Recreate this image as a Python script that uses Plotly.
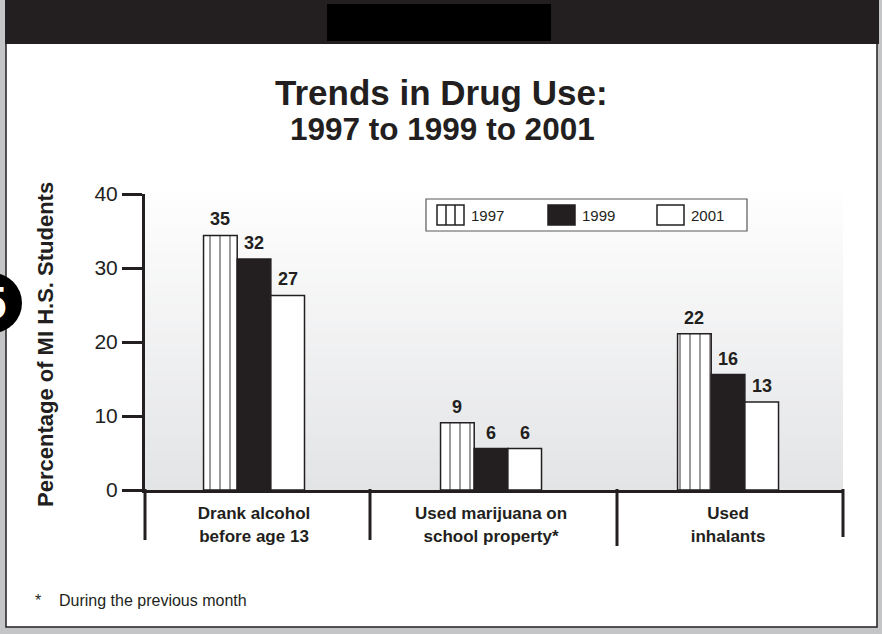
import plotly.graph_objects as go

# ---- data ----
categories = ["Drank alcohol<br>before age 13", "Used marijuana on<br>school property*", "Used<br>inhalants"]
years = ["1997", "1999", "2001"]
values_1997 = [34.4, 9.1, 21.1]
values_1999 = [31.2, 5.6, 15.6]
values_2001 = [26.3, 5.6, 11.9]
labels_1997 = ["35", "9", "22"]
labels_1999 = ["32", "6", "16"]
labels_2001 = ["27", "6", "13"]
y_ticks = [0, 10, 20, 30, 40]

DARK = "#231f20"
BOLD = "Liberation Sans, Arial, Helvetica, sans-serif"
NARROW = "Liberation Sans Narrow, Arial Narrow, Liberation Sans, Arial, sans-serif"

W, H = 882, 634
L, R, T, B = 145, 39, 194, 144  # plot area 145..843 x 194..490
PW, PH = W - L - R, H - T - B


def px(x):
    return (x - L) / PW


def py(y):
    return (H - B - y) / PH


series = [
    ("1997", values_1997, labels_1997, dict(color="white", line=dict(color=DARK, width=1.5),
                                            pattern=dict(shape="|", fgcolor=DARK, bgcolor="white", size=10, solidity=0.18))),
    ("1999", values_1999, labels_1999, dict(color=DARK, line=dict(color=DARK, width=1.5))),
    ("2001", values_2001, labels_2001, dict(color="white", line=dict(color=DARK, width=1.5))),
]

bar_w = 0.142
offsets = [-1.5 * bar_w, -0.5 * bar_w, 0.5 * bar_w]
xs = list(range(len(categories)))

fig = go.Figure()
annotations = []
for (name, vals, labs, marker), off in zip(series, offsets):
    fig.add_trace(go.Bar(x=xs, y=vals, name=name, width=bar_w, offset=off,
                         marker=marker, showlegend=False, hoverinfo="skip"))
    for xi, v, lab in zip(xs, vals, labs):
        annotations.append(dict(x=xi + off + bar_w / 2, y=v, xref="x", yref="y", text="<b>%s</b>" % lab,
                                showarrow=False, xanchor="center", yanchor="bottom", yshift=4,
                                font=dict(family=BOLD, size=18, color=DARK)))

shapes = []
# white panel with border
shapes.append(dict(type="rect", xref="paper", yref="paper", x0=px(6), x1=px(877), y0=py(43), y1=py(627),
                   fillcolor="white", line=dict(color=DARK, width=1.5), layer="below"))
# top dark band
shapes.append(dict(type="rect", xref="paper", yref="paper", x0=px(5), x1=px(879), y0=py(0), y1=py(44),
                   fillcolor=DARK, line=dict(width=0), layer="below"))
shapes.append(dict(type="rect", xref="paper", yref="paper", x0=px(327), x1=px(551), y0=py(4), y1=py(41),
                   fillcolor="black", line=dict(width=0), layer="below"))
# plot-area gradient
n = 40
c0, c1 = (254, 254, 254), (227, 228, 230)
for i in range(n):
    t = (i + 0.5) / n
    c = tuple(int(round(a + (b - a) * t)) for a, b in zip(c0, c1))
    shapes.append(dict(type="rect", xref="paper", yref="paper", x0=0, x1=1,
                       y0=1 - (i + 1) / n, y1=1 - i / n + 0.002,
                       fillcolor="rgb(%d,%d,%d)" % c, line=dict(width=0), layer="below"))
# category dividers below axis
for xpix, ybot in [(145, 540), (370, 540), (617, 546), (843, 537)]:
    shapes.append(dict(type="line", xref="paper", yref="paper", x0=px(xpix), x1=px(xpix),
                       y0=py(489), y1=py(ybot), line=dict(color=DARK, width=3)))
# legend box
shapes.append(dict(type="rect", xref="paper", yref="paper", x0=px(426), x1=px(747), y0=py(199), y1=py(231),
                   fillcolor="white", line=dict(color="#58595b", width=1.2)))
swatches = [(437, 464, "white"), (548, 575, DARK), (657, 684, "white")]
for x0, x1, fc in swatches:
    shapes.append(dict(type="rect", xref="paper", yref="paper", x0=px(x0), x1=px(x1), y0=py(205), y1=py(225),
                       fillcolor=fc, line=dict(color=DARK, width=1.5)))
for xl in (446, 455):
    shapes.append(dict(type="line", xref="paper", yref="paper", x0=px(xl), x1=px(xl), y0=py(205), y1=py(225),
                       line=dict(color=DARK, width=1.5)))
for (x0, x1, fc), yr in zip(swatches, years):
    annotations.append(dict(x=px(x1 + 5), y=py(215), xref="paper", yref="paper", text=yr, showarrow=False,
                            xanchor="left", yanchor="middle", font=dict(family=NARROW, size=15, color=DARK)))
# side badge
shapes.append(dict(type="circle", xref="paper", yref="paper", x0=px(-38), x1=px(22), y0=py(273), y1=py(333),
                   fillcolor="black", line=dict(width=0)))
annotations.append(dict(x=px(-6), y=py(303), xref="paper", yref="paper", text="<b>5</b>", showarrow=False,
                        xanchor="center", yanchor="middle", font=dict(family=BOLD, size=46, color="white")))

# titles
annotations.append(dict(x=px(441), y=py(92), xref="paper", yref="paper", text="<b>Trends in Drug Use:</b>",
                        showarrow=False, xanchor="center", yanchor="middle", font=dict(family=BOLD, size=35, color=DARK)))
annotations.append(dict(x=px(442), y=py(129), xref="paper", yref="paper", text="<b>1997 to 1999 to 2001</b>",
                        showarrow=False, xanchor="center", yanchor="middle", font=dict(family=BOLD, size=31.5, color=DARK)))
annotations.append(dict(x=px(45), y=py(345), xref="paper", yref="paper", text="<b>Percentage of MI H.S. Students</b>",
                        showarrow=False, textangle=-90, xanchor="center", yanchor="middle",
                        font=dict(family=BOLD, size=22, color=DARK)))
# footnote
annotations.append(dict(x=px(33), y=py(600), xref="paper", yref="paper", text="*", showarrow=False,
                        xanchor="left", yanchor="middle", font=dict(family=NARROW, size=16, color=DARK)))
annotations.append(dict(x=px(57), y=py(600), xref="paper", yref="paper", text="During the previous month",
                        showarrow=False, xanchor="left", yanchor="middle", font=dict(family=NARROW, size=16, color=DARK)))

fig.update_layout(
    width=W, height=H,
    margin=dict(l=L, r=R, t=T, b=B, pad=0),
    paper_bgcolor="#c4c5c7",
    plot_bgcolor="rgba(0,0,0,0)",
    barmode="overlay",
    shapes=shapes,
    annotations=annotations,
    showlegend=False,
    xaxis=dict(range=[-0.46, 2.485], tickmode="array", tickvals=xs,
               ticktext=["<b>%s</b>" % c for c in categories],
               tickfont=dict(family=BOLD, size=17, color=DARK),
               showline=True, linecolor=DARK, linewidth=3, ticks="", showgrid=False, zeroline=False,
               ticklabelstandoff=6, fixedrange=True),
    yaxis=dict(range=[0, 40], tickmode="array", tickvals=y_ticks,
               tickfont=dict(family=BOLD, size=21, color=DARK),
               showline=True, linecolor=DARK, linewidth=3, ticks="outside", ticklen=20, tickwidth=3,
               tickcolor=DARK, showgrid=False, zeroline=False, ticklabelstandoff=0, fixedrange=True),
)

fig.write_html("out.html", config={"displayModeBar": False})
